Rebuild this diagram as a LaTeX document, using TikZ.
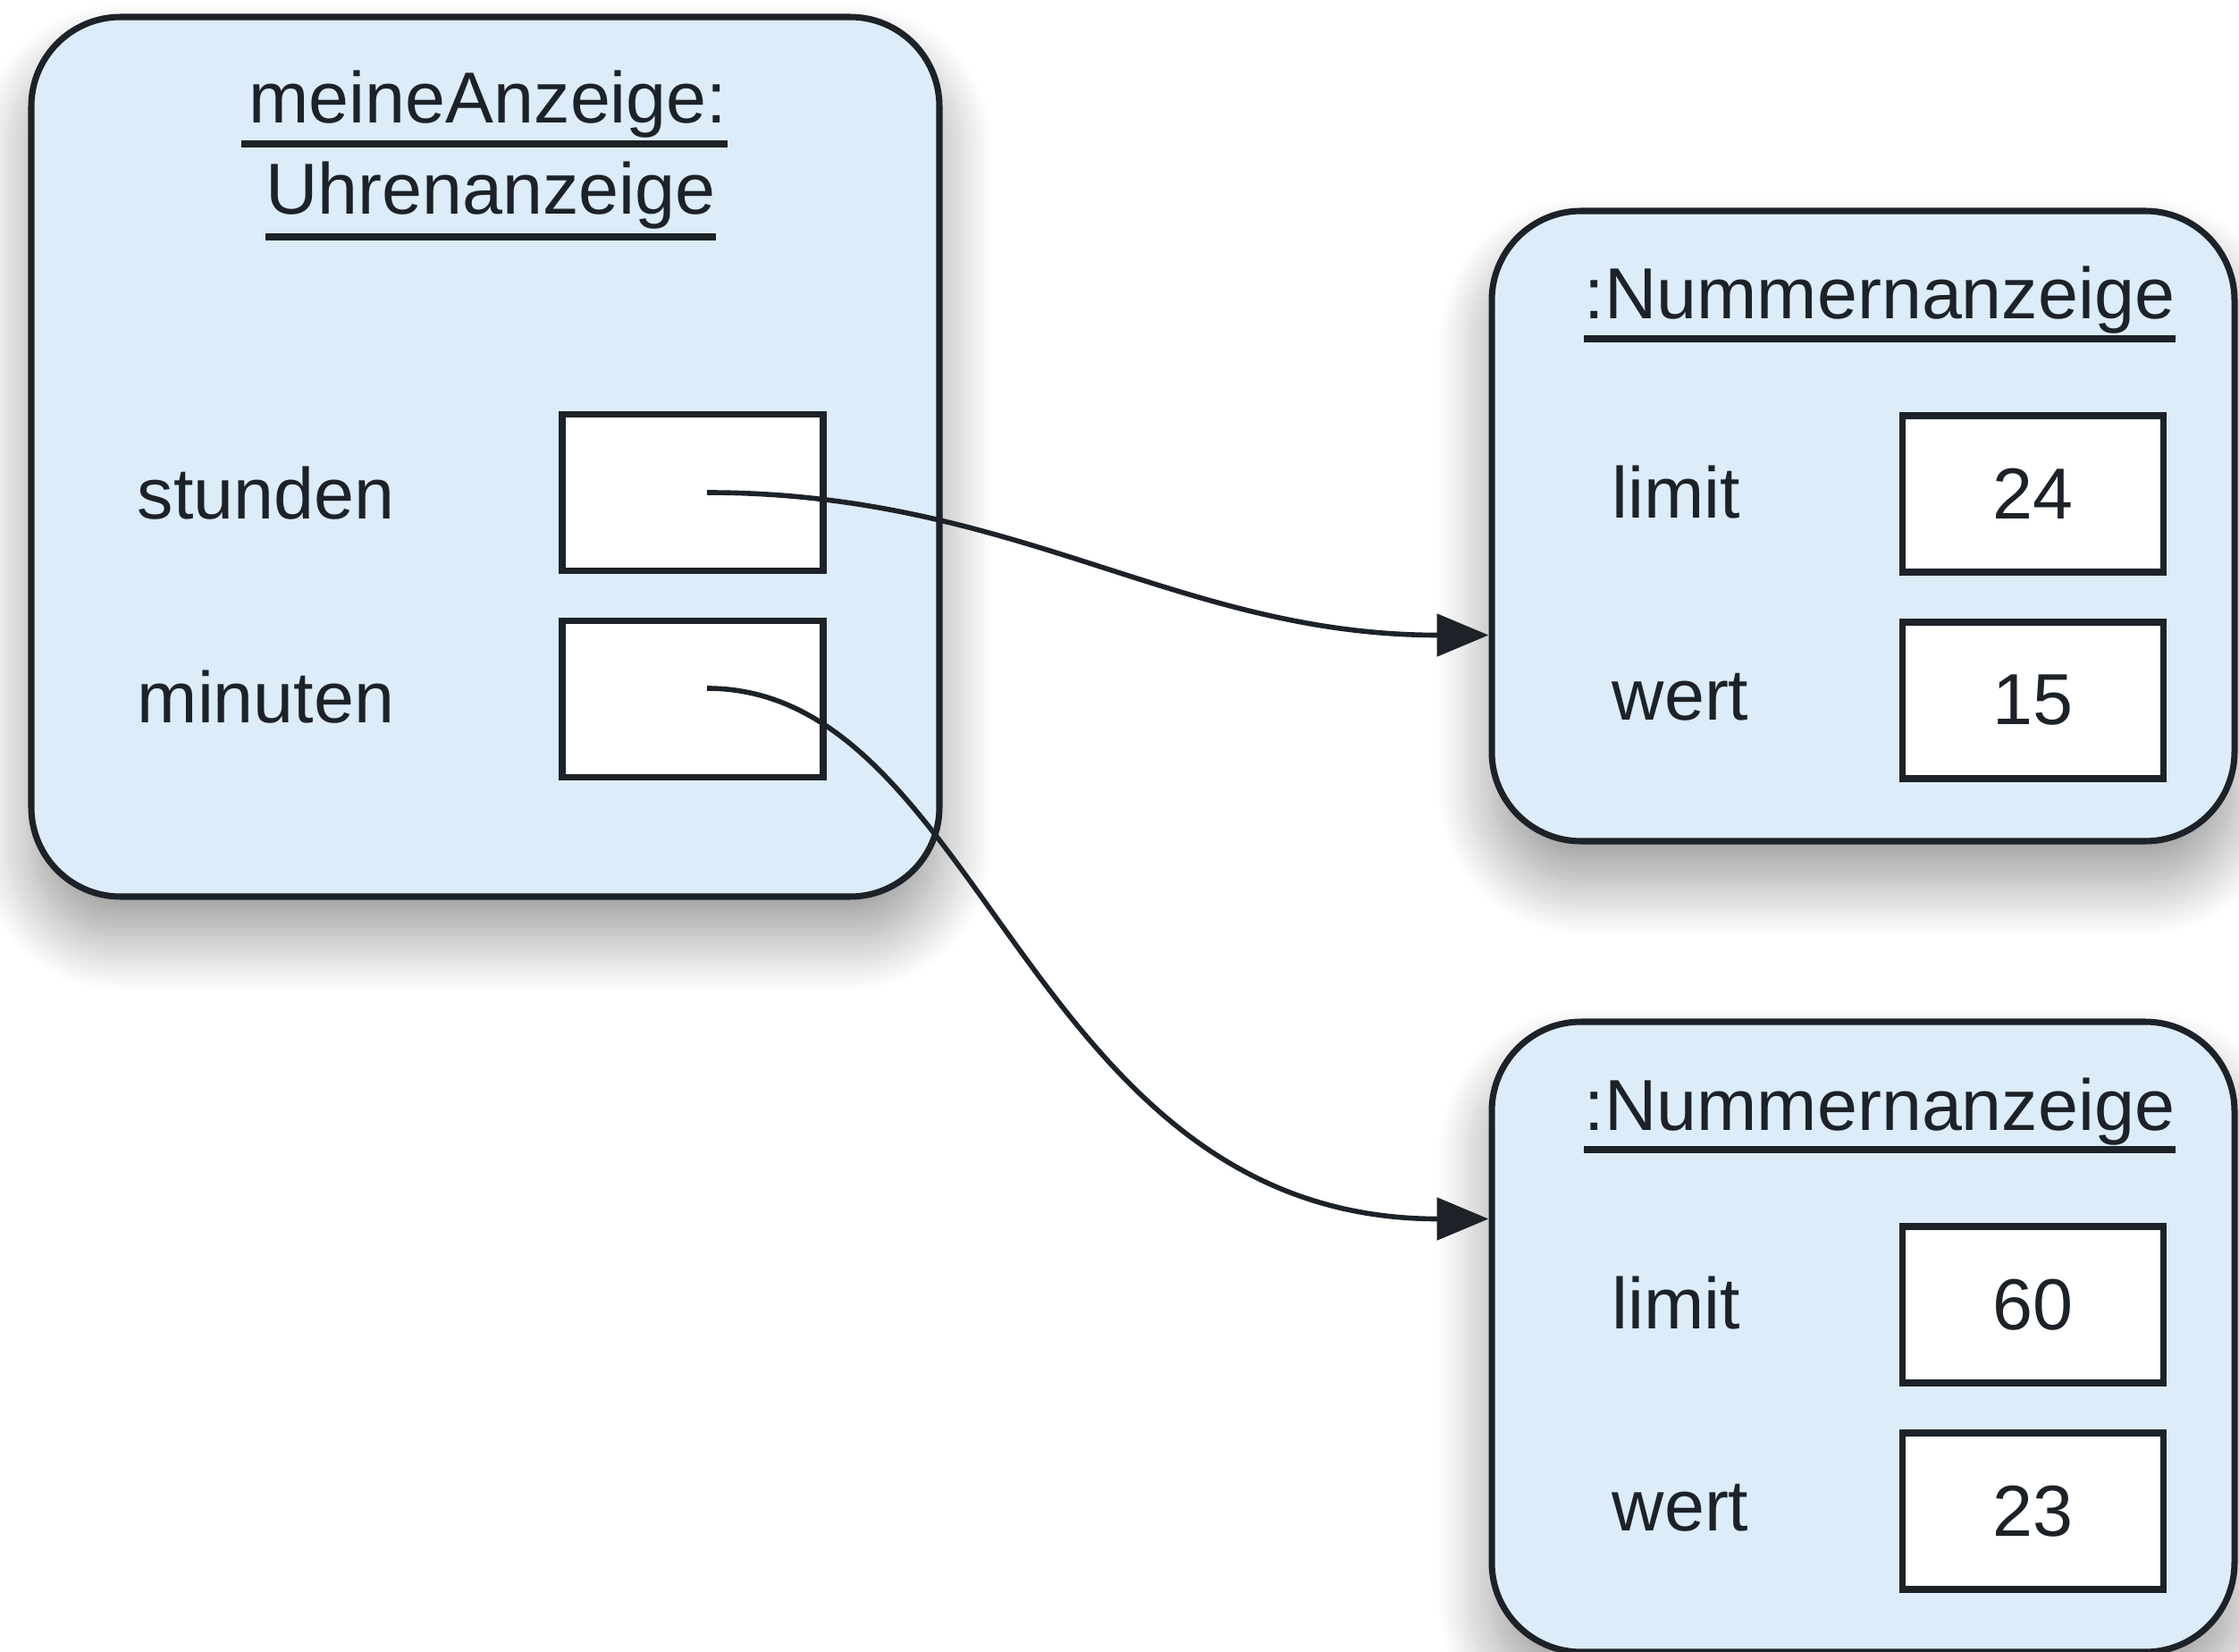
\documentclass[tikz,border=0pt]{standalone}
\usepackage{fontspec}
\setmainfont{Liberation Sans}
\usetikzlibrary{arrows.meta,shadows.blur}
\definecolor{objblue}{RGB}{220,236,248}
\definecolor{ink}{RGB}{28,34,40}
\tikzset{
  objbox/.style={draw=ink, fill=objblue, line width=2pt, rounded corners=1cm, inner sep=0,
    blur shadow={shadow xshift=0cm, shadow yshift=-0.45cm, shadow blur radius=0.6cm,
      shadow blur steps=25, shadow opacity=40}},
  slotbox/.style={draw=ink, fill=white, line width=2pt, minimum width=2.92cm, minimum height=1.75cm,
    inner sep=0, text=ink, font=\fontsize{23}{27}\selectfont},
  lbl/.style={inner sep=0, text=ink, font=\fontsize{23}{27}\selectfont},
  uline/.style={line width=2pt, draw=ink},
  ref/.style={line width=1.6pt, draw=ink, -{Triangle[length=0.58cm,width=0.47cm]}}
}
\begin{document}
\begin{tikzpicture}
\useasboundingbox (0,0) rectangle (25.05,-18.48); % frame

% meineAnzeige
\node[objbox, minimum width=10.16cm, minimum height=9.84cm] (uhr) at (5.43,-5.11) {}; % outer box
\node[lbl, anchor=base] (uhrname) at (5.46,-1.38) {meineAnzeige:}; % name
\draw[uline] ([xshift=-0.08cm,yshift=-0.23cm]uhrname.base west) -- ([yshift=-0.23cm]uhrname.base east); % underline
\node[lbl, anchor=base] (uhrtyp) at (5.49,-2.40) {Uhrenanzeige}; % type
\draw[uline] ([yshift=-0.25cm]uhrtyp.base west) -- ([yshift=-0.25cm]uhrtyp.base east); % underline
\node[lbl, anchor=west] (stdlbl) at (1.53,-5.52) {stunden};
\node[slotbox] (stdbox) at (7.75,-5.51) {};
\node[lbl, anchor=west] (minlbl) at (1.53,-7.80) {minuten};
\node[slotbox] (minbox) at (7.75,-7.82) {};

% Nummernanzeige oben
\node[objbox, minimum width=8.31cm, minimum height=7.05cm] (num1) at (20.845,-5.885) {}; % outer box
\node[lbl, anchor=base] (num1name) at (21.03,-3.57) {:Nummernanzeige}; % name
\draw[uline] ([yshift=-0.22cm]num1name.base west) -- ([yshift=-0.22cm]num1name.base east); % underline
\node[lbl, anchor=west] (lim1lbl) at (18.03,-5.51) {limit};
\node[slotbox] (lim1box) at (22.745,-5.525) {24};
\node[lbl, anchor=west] (wert1lbl) at (18.03,-7.80) {wert};
\node[slotbox] (wert1box) at (22.745,-7.835) {15};

% Nummernanzeige unten
\node[objbox, minimum width=8.31cm, minimum height=7.05cm] (num2) at (20.845,-14.955) {}; % outer box
\node[lbl, anchor=base] (num2name) at (21.03,-12.64) {:Nummernanzeige}; % name
\draw[uline] ([yshift=-0.22cm]num2name.base west) -- ([yshift=-0.22cm]num2name.base east); % underline
\node[lbl, anchor=west] (lim2lbl) at (18.03,-14.58) {limit};
\node[slotbox] (lim2box) at (22.745,-14.595) {60};
\node[lbl, anchor=west] (wert2lbl) at (18.03,-16.87) {wert};
\node[slotbox] (wert2box) at (22.745,-16.905) {23};

% references
\draw[ref] ([xshift=0.16cm]stdbox.center) to[out=0, in=180] ([yshift=-1.22cm]num1.west); % stunden
\draw[ref] ([xshift=0.16cm,yshift=0.12cm]minbox.center) to[out=0, in=180, out looseness=0.75, in looseness=1.25] ([yshift=1.32cm]num2.west); % minuten

\end{tikzpicture}
\end{document}
